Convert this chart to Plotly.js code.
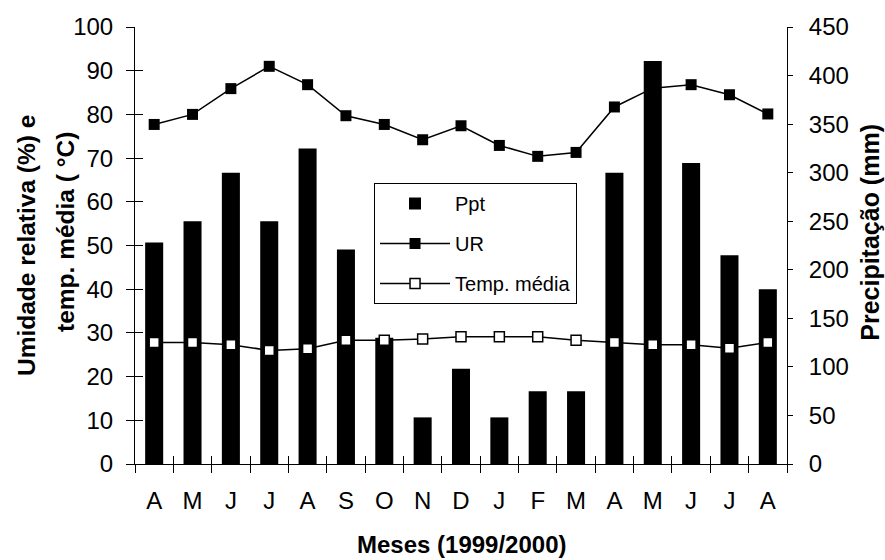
<!DOCTYPE html>
<html><head><meta charset="utf-8">
<script src="https://cdn.plot.ly/plotly-3.0.1.min.js"></script>
<style>html,body{margin:0;padding:0;background:#fff}#chart{width:885px;height:560px}</style>
</head><body><div id="chart"></div>
<script>
const months = ['A','M','J','J','A','S','O','N','D','J','F','M','A','M','J','J','A'];
const precipitation = [228, 250, 300, 250, 325, 221, 130, 48, 98, 48, 75, 75, 300, 415, 310, 215, 180];
const humidity = [77.7, 80.0, 85.9, 91.0, 86.8, 79.7, 77.7, 74.2, 77.4, 72.9, 70.4, 71.3, 81.7, 86.0, 86.8, 84.5, 80.1];
const temperature = [27.8, 27.8, 27.3, 26.0, 26.4, 28.3, 28.3, 28.6, 29.1, 29.1, 29.1, 28.3, 27.8, 27.3, 27.3, 26.5, 27.8];
const leftTicks = [0,10,20,30,40,50,60,70,80,90,100];
const rightTicks = [0,50,100,150,200,250,300,350,400,450];

const idx = months.map((_, i) => i);
const bounds = months.map((_, i) => i - 0.5).concat([months.length - 0.5]);
const FONT = 'Liberation Sans, Arial, sans-serif';
const xr = [-0.5, months.length - 0.5];

const traces = [
  {type:'bar', name:'Ppt', x: idx, y: precipitation, xaxis:'x', yaxis:'y',
   marker:{color:'#000', line:{color:'#000', width:0}}, legendgroup:'a', hoverinfo:'skip'},
  {type:'scatter', mode:'lines+markers', name:'UR', x: idx, y: humidity, xaxis:'x', yaxis:'y2',
   line:{color:'#000', width:1.5}, marker:{symbol:'square', size:11, color:'#000'}, legendgroup:'b'},
  {type:'scatter', mode:'lines+markers', name:'Temp. média', x: idx, y: temperature, xaxis:'x', yaxis:'y2',
   line:{color:'#000', width:1.5}, marker:{symbol:'square', size:10, color:'#fff', line:{color:'#000', width:1.5}}, legendgroup:'c'},
  {type:'scatter', mode:'markers', x: idx, y: temperature, xaxis:'x2', yaxis:'y3',
   marker:{opacity:0}, showlegend:false, hoverinfo:'skip'}
];

const layout = {
  width: 885, height: 560,
  margin: {l:135, r:98, t:27, b:96},
  paper_bgcolor:'#fff', plot_bgcolor:'rgba(0,0,0,0)',
  font: {family: FONT, color:'#000', size: 24},
  bargap: 0.53,
  showlegend: true,
  legend: {x:0.3666, y:0.643, xanchor:'left', yanchor:'top', bgcolor:'#fff',
    bordercolor:'#000', borderwidth:1, font:{size:20, family:FONT}, itemwidth:70,
    tracegroupgap:11, traceorder:'grouped'},
  xaxis: {range: xr, tickmode:'array', tickvals: idx, ticktext: months, ticks:'',
    showline:true, linecolor:'#000', linewidth:1, showgrid:false, zeroline:false,
    tickfont:{size:24}, ticklabelstandoff:15,
    minor:{tickmode:'array', tickvals: bounds, ticks:'outside', ticklen:8, tickcolor:'#000', tickwidth:1, showgrid:false}},
  xaxis2: {range: xr, overlaying:'x', anchor:'y', side:'bottom', tickmode:'array', tickvals: bounds,
    ticks:'inside', ticklen:8, tickcolor:'#000', showticklabels:false, showline:false, showgrid:false, zeroline:false},
  yaxis: {range:[0,450], side:'right', tickmode:'array', tickvals: rightTicks, ticks:'outside', ticklen:5,
    tickcolor:'#000', showline:true, linecolor:'#000', showgrid:false, zeroline:false, tickfont:{size:24},
    ticklabelstandoff:11},
  yaxis2: {range:[0,100], overlaying:'y', side:'left', anchor:'x', tickmode:'array', tickvals: leftTicks,
    ticks:'outside', ticklen:8, tickcolor:'#000', showline:true, linecolor:'#000', showgrid:false, zeroline:false,
    tickfont:{size:24}, ticklabelstandoff:8},
  yaxis3: {range:[0,100], overlaying:'y', side:'left', anchor:'x', tickmode:'array', tickvals: leftTicks,
    ticks:'inside', ticklen:8, tickcolor:'#000', showticklabels:false, showline:false, showgrid:false, zeroline:false},
  annotations: [
    {text:'<b>Umidade relativa (%) e</b>', textangle:-90, xref:'paper', yref:'paper', x:-0.1672, y:0.501,
     xanchor:'center', yanchor:'middle', showarrow:false, font:{size:24.5, family:FONT}},
    {text:'<b>temp. média ( °C)</b>', textangle:-90, xref:'paper', yref:'paper', x:-0.1058, y:0.531,
     xanchor:'center', yanchor:'middle', showarrow:false, font:{size:24.5, family:FONT}},
    {text:'<b>Precipitação (mm)</b>', textangle:-90, xref:'paper', yref:'paper', x:1.127, y:0.531,
     xanchor:'center', yanchor:'middle', showarrow:false, font:{size:25, family:FONT}},
    {text:'<b>Meses (1999/2000)</b>', xref:'paper', yref:'paper', x:0.5, y:-0.184,
     xanchor:'center', yanchor:'middle', showarrow:false, font:{size:24, family:FONT}}
  ]
};

Plotly.newPlot('chart', traces, layout, {displayModeBar:false, staticPlot:true});
</script>
</body></html>
